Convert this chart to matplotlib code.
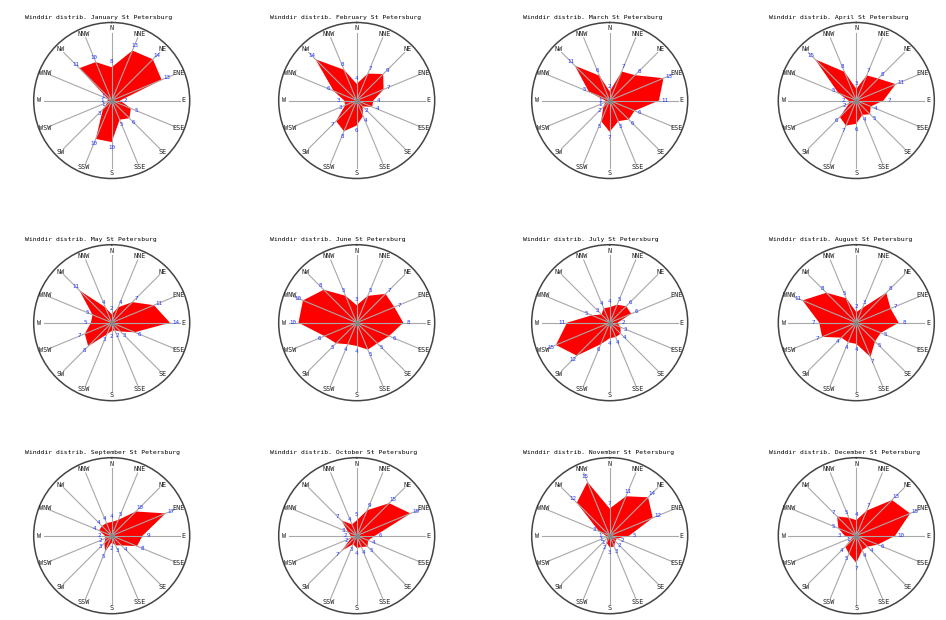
import numpy as np
from matplotlib import pyplot as plt

# wind direction distribution, St Petersburg, % per direction
dirs = ['N', 'NNE', 'NE', 'ENE', 'E', 'ESE', 'SE', 'SSE',
        'S', 'SSW', 'SW', 'WSW', 'W', 'WNW', 'NW', 'NNW']
months = ['January', 'February', 'March', 'April', 'May', 'June',
          'July', 'August', 'September', 'October', 'November', 'December']

jan = [8, 13, 14, 13, 2, 5, 6, 5, 10, 10, 3, 1, 1, 1, 11, 10]
feb = [4, 7, 9, 7, 4, 4, 2, 4, 6, 8, 7, 3, 3, 6, 14, 8]
mar = [2, 7, 8, 13, 11, 6, 6, 5, 7, 5, 2, 1, 1, 5, 11, 6]
apr = [3, 7, 8, 11, 7, 4, 5, 4, 6, 7, 6, 2, 2, 5, 15, 8]
may = [2, 4, 7, 11, 14, 6, 3, 2, 2, 3, 8, 7, 5, 5, 11, 4]
jun = [3, 5, 7, 7, 8, 6, 5, 5, 4, 4, 5, 6, 10, 10, 8, 5]
jul = [4, 5, 6, 6, 2, 3, 4, 4, 4, 6, 12, 15, 11, 5, 3, 4]
aug = [2, 3, 8, 7, 8, 5, 5, 7, 4, 4, 4, 7, 7, 11, 8, 5]
sep = [4, 5, 10, 17, 9, 8, 4, 3, 2, 5, 3, 2, 2, 4, 4, 4]
oct_ = [5, 9, 15, 19, 6, 4, 5, 4, 4, 3, 7, 2, 2, 3, 7, 4]
nov = [7, 11, 14, 12, 5, 2, 2, 3, 3, 2, 1, 1, 1, 3, 12, 15]
dec = [4, 7, 13, 15, 10, 6, 4, 4, 7, 5, 4, 1, 3, 5, 7, 5]
data = [jan, feb, mar, apr, may, jun, jul, aug, sep, oct_, nov, dec]

W, H = 946, 620
fig = plt.figure(figsize=(W / 100, H / 100), dpi=100)

col_x = [111.7, 356.7, 609.7, 856.3]
row_y = [100.5, 322.7, 535.7]
R = 78

theta = np.deg2rad(np.arange(16) * 22.5)
mono = 'DejaVu Sans Mono'

for i, (month, vals) in enumerate(zip(months, data)):
    cx = col_x[i % 4]
    cy = row_y[i // 4]
    ax = fig.add_axes([(cx - R) / W, 1 - (cy + R) / H, 2 * R / W, 2 * R / H],
                      projection='polar')
    ax.set_theta_zero_location('N')
    ax.set_theta_direction(-1)
    rmax = max(vals) * 1.34
    ax.set_ylim(0, rmax)
    ax.grid(False)
    ax.set_xticks([])
    ax.set_yticks([])
    ax.spines['polar'].set_color('#444444')
    ax.spines['polar'].set_linewidth(1.1)

    v = np.array(vals, dtype=float)
    ax.fill(np.append(theta, theta[0]), np.append(v, v[0]),
            color='#ff0000', lw=0, zorder=2)

    for t, d in zip(theta, dirs):
        ax.plot([t, t], [0, rmax * 0.87], color='#a8a8a8', lw=0.8, zorder=3)
        ax.text(t, rmax * 0.925, d, ha='center', va='center',
                fontsize=4.9, family=mono, color='#222222', zorder=4)

    for t, val in zip(theta, vals):
        ax.text(t, val + rmax * 0.07, str(val), ha='center', va='center',
                fontsize=4.2, family=mono, color='#2233ff', zorder=5)

    ax.plot([0], [0], 'o', color='#888888', ms=3, zorder=4)

    fig.text((cx - 87) / W, 1 - (cy - 83) / H,
             'Winddir distrib. ' + month + ' St Petersburg',
             ha='left', va='center', fontsize=4.6, family=mono, color='black')

plt.savefig('out.png', dpi=100)
